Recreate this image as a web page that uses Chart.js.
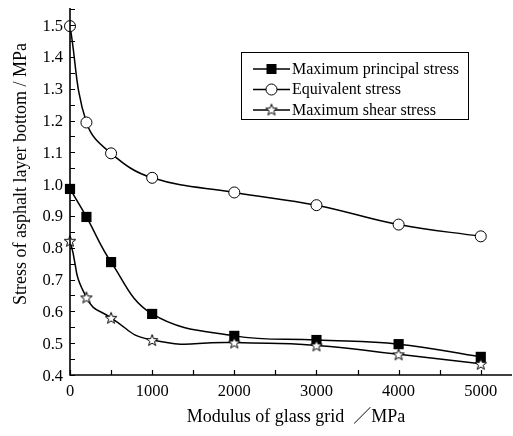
<!DOCTYPE html>
<html>
<head>
<meta charset="utf-8">
<script src="https://cdn.jsdelivr.net/npm/chart.js@4/dist/chart.umd.min.js"></script>
<style>
html,body{margin:0;padding:0;background:#fff;}
#wrap{position:relative;width:513px;height:436px;}
</style>
</head>
<body>
<div id="wrap"><canvas id="c" width="513" height="436"></canvas></div>
<script>
const modulus = [0, 200, 500, 1000, 2000, 3000, 4000, 5000];
const principalStress = [0.985, 0.897, 0.755, 0.592, 0.523, 0.510, 0.497, 0.457];
const equivalentStress = [1.497, 1.194, 1.097, 1.020, 0.974, 0.934, 0.873, 0.836];
const shearStress = [0.822, 0.644, 0.580, 0.510, 0.502, 0.493, 0.465, 0.435];
const seriesNames = ["Maximum principal stress", "Equivalent stress", "Maximum shear stress"];
const xTicks = [0, 1000, 2000, 3000, 4000, 5000];
const yTicks = [0.4, 0.5, 0.6, 0.7, 0.8, 0.9, 1.0, 1.1, 1.2, 1.3, 1.4, 1.5];
const xTitle = "Modulus of glass grid  \uFF0FMPa";
const yTitle = "Stress of asphalt layer bottom / MPa";

const SERIF = "'Liberation Serif','Times New Roman','Noto Sans CJK SC',serif";

function makeStar(size) {
  const c = document.createElement('canvas');
  c.width = size; c.height = size;
  const g = c.getContext('2d');
  const cx = size / 2, cy = size / 2 + 0.6;
  const R = size / 2 - 1, r = R * 0.42;
  g.beginPath();
  for (let i = 0; i < 10; i++) {
    const a = -Math.PI / 2 + i * Math.PI / 5;
    const rr = i % 2 === 0 ? R : r;
    const px = cx + rr * Math.cos(a), py = cy + rr * Math.sin(a);
    if (i === 0) g.moveTo(px, py); else g.lineTo(px, py);
  }
  g.closePath();
  g.fillStyle = '#fff';
  g.fill();
  g.lineWidth = 1;
  g.strokeStyle = '#000';
  g.stroke();
  return c;
}
const starImg = makeStar(14);

function pts(arr) { return modulus.map((x, i) => ({x: x, y: arr[i]})); }

const axesPlugin = {
  id: 'axesPlugin',
  afterDatasetsDraw(chart) {
    const ctx = chart.ctx;
    const xs = chart.scales.x, ys = chart.scales.y;
    const a = chart.chartArea;
    ctx.save();
    ctx.strokeStyle = '#000';
    ctx.lineWidth = 1.6;
    ctx.beginPath();
    ctx.moveTo(a.left, a.top);
    ctx.lineTo(a.left, a.bottom);
    ctx.lineTo(a.right, a.bottom);
    ctx.stroke();
    ctx.lineWidth = 1.2;
    ctx.beginPath();
    for (let v = 0; v <= 5000; v += 500) {
      const px = Math.round(xs.getPixelForValue(v)) + 0.5;
      ctx.moveTo(px, a.bottom);
      ctx.lineTo(px, a.bottom - 5);
    }
    for (let k = 0; k <= 23; k++) {
      const v = 0.4 + k * 0.05;
      const py = Math.round(ys.getPixelForValue(v)) + 0.5;
      ctx.moveTo(a.left, py);
      ctx.lineTo(a.left + 5, py);
    }
    ctx.stroke();
    ctx.fillStyle = '#000';
    ctx.font = '16.5px ' + SERIF;
    ctx.textBaseline = 'alphabetic';
    ctx.textAlign = 'center';
    xTicks.forEach(v => {
      ctx.fillText(String(v), xs.getPixelForValue(v), a.bottom + 20.5);
    });
    ctx.textAlign = 'right';
    yTicks.forEach(v => {
      ctx.fillText(v.toFixed(1), a.left - 7, ys.getPixelForValue(v) + 5.5);
    });
    ctx.restore();
  },
  afterDraw(chart) {
    const ctx = chart.ctx;
    const ds = chart.data.datasets;
    ctx.save();
    ctx.strokeStyle = '#000';
    ctx.lineWidth = 1;
    ctx.strokeRect(241.5, 52.5, 227, 67);
    const rows = [69, 89.5, 110];
    ctx.font = '16px ' + SERIF;
    ctx.textBaseline = 'middle';
    ctx.fillStyle = '#000';
    ds.forEach((d, i) => {
      const y = rows[i];
      ctx.lineWidth = 1.5;
      ctx.beginPath();
      ctx.moveTo(253, y);
      ctx.lineTo(290, y);
      ctx.stroke();
      const cx = 271.5;
      if (d.pointStyle === 'rect') {
        ctx.fillStyle = '#000';
        ctx.fillRect(cx - 5, y - 5, 10, 10);
      } else if (d.pointStyle === 'circle') {
        ctx.beginPath();
        ctx.arc(cx, y, 5.5, 0, Math.PI * 2);
        ctx.fillStyle = '#fff';
        ctx.fill();
        ctx.lineWidth = 1;
        ctx.stroke();
      } else {
        ctx.drawImage(starImg, cx - 7, y - 7.5);
      }
      ctx.fillStyle = '#000';
      ctx.fillText(d.label, 292, y + 0.5);
    });
    ctx.font = '18px ' + SERIF;
    ctx.textAlign = 'center';
    ctx.textBaseline = 'middle';
    ctx.fillText(xTitle, 296, 417);
    ctx.translate(21, 174);
    ctx.rotate(-Math.PI / 2);
    ctx.fillText(yTitle, 0, 0);
    ctx.restore();
  }
};

new Chart(document.getElementById('c'), {
  type: 'line',
  data: {
    datasets: [
      {
        label: seriesNames[0], data: pts(principalStress), order: 2,
        borderColor: '#000', borderWidth: 1.5, tension: 0.4,
        pointStyle: 'rect', pointRadius: 7.2, pointBackgroundColor: '#000',
        pointBorderColor: '#000', pointBorderWidth: 0
      },
      {
        label: seriesNames[1], data: pts(equivalentStress), order: 1,
        borderColor: '#000', borderWidth: 1.5, tension: 0.4,
        pointStyle: 'circle', pointRadius: 5.5, pointBackgroundColor: '#fff',
        pointBorderColor: '#000', pointBorderWidth: 1
      },
      {
        label: seriesNames[2], data: pts(shearStress), order: 0,
        borderColor: '#000', borderWidth: 1.5, tension: 0.55,
        pointStyle: starImg, pointRadius: 7
      }
    ]
  },
  options: {
    responsive: false,
    animation: false,
    events: [],
    clip: false,
    layout: {autoPadding: false, padding: {left: 0, top: 8, right: 1, bottom: 0}},
    plugins: {legend: {display: false}, tooltip: {enabled: false}},
    scales: {
      x: {
        type: 'linear', min: 0, max: 5380,
        grid: {display: false, drawTicks: false},
        border: {display: false},
        afterFit(s) { s.height = 61; },
        afterBuildTicks(s) { s.ticks = xTicks.map(v => ({value: v})); },
        ticks: {display: false}
      },
      y: {
        type: 'linear', min: 0.4, max: 1.554,
        grid: {display: false, drawTicks: false},
        border: {display: false},
        afterFit(s) { s.width = 70; },
        afterBuildTicks(s) { s.ticks = yTicks.map(v => ({value: v})); },
        ticks: {display: false}
      }
    }
  },
  plugins: [axesPlugin]
});
</script>
</body>
</html>
